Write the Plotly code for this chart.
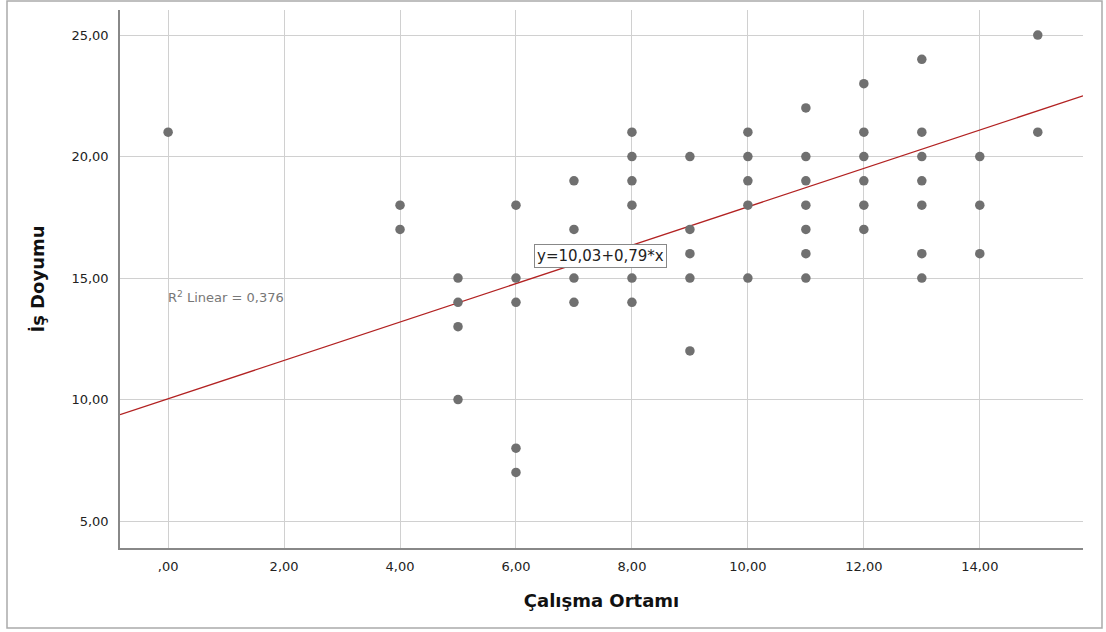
import plotly.graph_objects as go

x_vals = [0,
          4, 4,
          5, 5, 5, 5,
          6, 6, 6, 6, 6,
          7, 7, 7, 7,
          8, 8, 8, 8, 8, 8,
          9, 9, 9, 9, 9,
          10, 10, 10, 10, 10,
          11, 11, 11, 11, 11, 11, 11,
          12, 12, 12, 12, 12, 12,
          13, 13, 13, 13, 13, 13, 13,
          14, 14, 14,
          15, 15]
y_vals = [21,
          18, 17,
          15, 14, 13, 10,
          18, 15, 14, 8, 7,
          19, 17, 15, 14,
          21, 20, 19, 18, 15, 14,
          20, 17, 16, 15, 12,
          21, 20, 19, 18, 15,
          22, 20, 19, 18, 17, 16, 15,
          23, 21, 20, 19, 18, 17,
          24, 21, 20, 19, 18, 16, 15,
          20, 18, 16,
          25, 21]

intercept = 10.03
slope = 0.79
r2 = "0,376"

x_ticks = [0, 2, 4, 6, 8, 10, 12, 14]
x_ticktext = [",00", "2,00", "4,00", "6,00", "8,00", "10,00", "12,00", "14,00"]
y_ticks = [5, 10, 15, 20, 25]
y_ticktext = ["5,00", "10,00", "15,00", "20,00", "25,00"]

x_range = [-0.83, 15.78]
y_range = [3.89, 26.03]

FONT = "DejaVu Sans, Liberation Sans, Arial"

fig = go.Figure()
fig.add_trace(go.Scatter(
    x=x_range, y=[intercept + slope * v for v in x_range],
    mode="lines", line=dict(color="#b22222", width=1.3),
    hoverinfo="skip", showlegend=False))
fig.add_trace(go.Scatter(
    x=x_vals, y=y_vals, mode="markers",
    marker=dict(color="#707070", size=9.5),
    showlegend=False))

fig.add_annotation(x=-0.04, y=14.2, xref="x", yref="y", text="R<sup>2</sup> Linear = " + r2,
                   showarrow=False, xanchor="left", yanchor="middle",
                   font=dict(family=FONT, size=13, color="#777777"))
fig.add_annotation(x=7.45, y=15.9, xref="x", yref="y",
                   text="y=%s+%s*x" % (f"{intercept:.2f}".replace(".", ","), f"{slope:.2f}".replace(".", ",")),
                   showarrow=False, xanchor="center", yanchor="middle",
                   bgcolor="white", bordercolor="#888888", borderwidth=1, borderpad=2,
                   font=dict(family=FONT, size=15, color="#222222"))

# outer frame of the picture
fig.add_shape(type="rect", xref="paper", yref="paper",
              x0=(7 - 120) / 963, x1=(1102 - 120) / 963,
              y0=(548 - 628) / 538, y1=(548 - 1) / 538,
              line=dict(color="#aaaaaa", width=1.5), layer="below")

fig.update_xaxes(range=x_range, tickvals=x_ticks, ticktext=x_ticktext,
                 showgrid=True, gridcolor="#d0d0d0", gridwidth=1.3,
                 showline=True, linecolor="#888888", linewidth=1.5,
                 zeroline=False, ticks="", ticklabelstandoff=6,
                 tickfont=dict(family=FONT, size=13, color="#222222"),
                 title=dict(text="<b>Çalışma Ortamı</b>", standoff=21,
                            font=dict(family=FONT, size=18, color="#111111")))
fig.update_yaxes(range=y_range, tickvals=y_ticks, ticktext=y_ticktext,
                 showgrid=True, gridcolor="#d0d0d0", gridwidth=1.3,
                 showline=True, linecolor="#888888", linewidth=1.5,
                 zeroline=False, ticks="", ticklabelstandoff=7,
                 tickfont=dict(family=FONT, size=13, color="#222222"),
                 title=dict(text="<b>İş Doyumu</b>", standoff=22,
                            font=dict(family=FONT, size=18, color="#111111")))

fig.update_layout(width=1106, height=632,
                  margin=dict(l=120, r=23, t=10, b=84),
                  paper_bgcolor="white", plot_bgcolor="white")

fig.write_html("out.html")
